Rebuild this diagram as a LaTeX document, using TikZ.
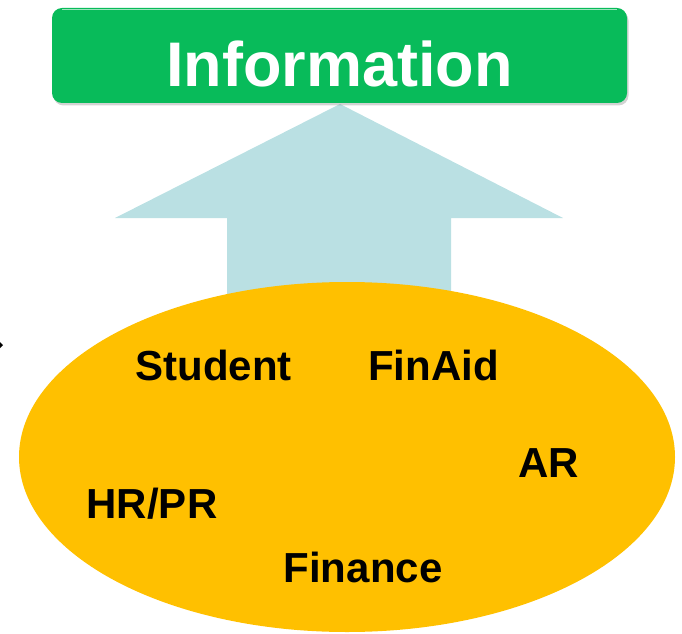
\documentclass[tikz,border=0pt]{standalone}
\usepackage{fontspec}
\setmainfont{Liberation Sans}
\usetikzlibrary{shadows,shapes.geometric}
\definecolor{infogreen}{RGB}{8,187,90}
\definecolor{arrowblue}{RGB}{186,224,227}
\definecolor{poolgold}{RGB}{255,192,0}
\newcommand{\unitfont}{\fontsize{42}{50}\selectfont\bfseries}
\tikzset{
    unit/.style={anchor=base, inner sep=0pt, font=\unitfont, text=black}
}

\begin{document}
\begin{tikzpicture}[x=1pt,y=1pt]
        \useasboundingbox (0,0) rectangle (682,633);
        % arrow up to the box
        \fill [arrowblue]
        (227,313) -- (227,415) -- (115,415) --
        (340,529) -- (563,415) -- (451,415) -- (451,313) -- cycle;
        % data pool
        \node [ellipse, fill=poolgold, minimum width=656, minimum height=350,
               inner sep=0pt] (pool) at (347,176) {};
        \node [unit] (student) at (213.5,253) {Student};
        \node [unit] (finaid) at (433.5,253) {FinAid};
        \node [unit] (ar) at (548.5,156) {AR};
        \node [unit] (hrpr) at (152,115) {HR/PR};
        \node [unit] (finance) at (363,51) {Finance};
        % top box
        \node [fill=infogreen, rounded corners=10, minimum width=575,
               minimum height=95, inner sep=0pt,
               drop shadow={shadow xshift=1.5pt, shadow yshift=-2.5pt, opacity=0.35}]
               (info) at (339.5,577.5) {};
        \draw [white!60!infogreen, line width=1.2pt]
        ([xshift=10,yshift=-2]info.north west) -- ([xshift=-10,yshift=-2]info.north east);
        \node [anchor=base, inner sep=0pt, text=white,
               font=\fontsize{63}{70}\selectfont\bfseries] (infotext) at (339.5,546) {Information};
        % bit at the left edge
        \fill (0,291) -- (3,288) -- (0,285) -- cycle;
\end{tikzpicture}
\end{document}
